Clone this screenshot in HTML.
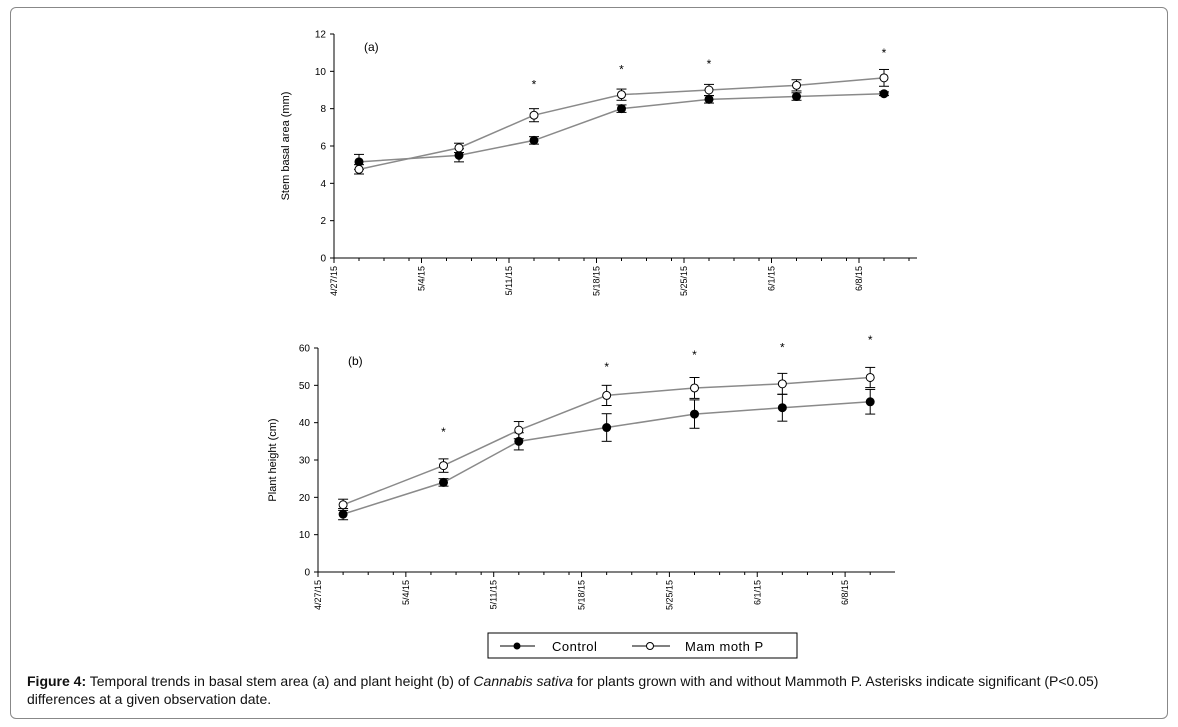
<!DOCTYPE html>
<html><head><meta charset="utf-8">
<style>
body{margin:0;background:#fff;width:1178px;height:727px;overflow:hidden;font-family:"Liberation Sans",Arial,sans-serif}
#frame{position:absolute;left:10px;top:7px;width:1156px;height:710px;border:1px solid #888;border-radius:6px}
#cap{position:absolute;left:27px;top:672px;width:1135px;font-size:14px;line-height:18px;color:#111}
svg{position:absolute;left:0;top:0}
</style></head><body>
<div id="frame"></div>
<svg id="chart" width="1178" height="727"></svg>
<div id="cap"><b>Figure 4:</b> Temporal trends in basal stem area (a) and plant height (b) of <i>Cannabis sativa</i> for plants grown with and without Mammoth P. Asterisks indicate significant (P&lt;0.05) differences at a given observation date.</div>
<script>
const dateLabels=["4/27/15","5/4/15","5/11/15","5/18/15","5/25/15","6/1/15","6/8/15"];
const obsDays=[2,10,16,23,30,37,44];
const aControl=[5.15,5.5,6.3,8.0,8.5,8.65,8.8];
const aControlErr=[0.4,0.35,0.2,0.2,0.2,0.2,0.1];
const aMammoth=[4.75,5.9,7.65,8.75,9.0,9.25,9.65];
const aMammothErr=[0.25,0.25,0.35,0.3,0.3,0.3,0.45];
const aStarDays=[16,23,30,44];
const aStarVals=[9.4,10.2,10.5,11.1];
const aTicks=[0,2,4,6,8,10,12];
const bControl=[15.5,24,35,38.7,42.3,44,45.6];
const bControlErr=[1.5,1,2.3,3.7,3.8,3.6,3.3];
const bMammoth=[18,28.5,38,47.3,49.3,50.4,52.1];
const bMammothErr=[1.5,1.8,2.3,2.7,2.8,2.8,2.7];
const bStarDays=[10,23,30,37,44];
const bStarVals=[38,55.5,58.7,60.7,62.7];
const bTicks=[0,10,20,30,40,50,60];

const svg=document.getElementById('chart');
const NS='http://www.w3.org/2000/svg';
function mk(tag,attrs,parent){const e=document.createElementNS(NS,tag);for(const k in attrs)e.setAttribute(k,attrs[k]);(parent||svg).appendChild(e);return e;}

function panel(cfg){
  const g=mk('g',{});
  
  
  const X=d=>cfg.x0+d*cfg.pxDay;
  const Y=v=>cfg.y0-v*(cfg.y0-cfg.yTop)/cfg.yMax;
  const ya=mk('line',{x1:cfg.x0,y1:cfg.yTop,x2:cfg.x0,y2:cfg.y0,stroke:'#000','stroke-width':1},g);
  
  const xa=mk('line',{x1:cfg.x0,y1:cfg.y0,x2:cfg.xEnd,y2:cfg.y0,stroke:'#000','stroke-width':1},g);
  
  cfg.ticks.forEach(t=>{
    mk('line',{x1:cfg.x0-4,y1:Y(t),x2:cfg.x0,y2:Y(t),stroke:'#000'},g);
    const tx=mk('text',{x:cfg.x0-8,y:Y(t)+3.5,'font-size':10,'text-anchor':'end',fill:'#000'},g);
    tx.textContent=t;
    
  });
  const nDays=Math.floor((cfg.xEnd-cfg.x0)/cfg.pxDay);
  for(let d=0;d<=nDays;d++){
    const r=d%7;
    const major=r===0;
    if(!major && r%2!==0) continue;
    mk('line',{x1:X(d),y1:cfg.y0,x2:X(d),y2:cfg.y0+(major?5:3),stroke:'#000'},g);
  }
  dateLabels.forEach((l,i)=>{
    const x=X(i*7);
    const t=mk('text',{x:0,y:0,'font-size':9,'text-anchor':'end',fill:'#000',transform:`translate(${x+3},${cfg.y0+8}) rotate(-90)`},g);
    t.textContent=l;
    
  });
  const yt=mk('text',{x:0,y:0,'font-size':11,'text-anchor':'middle',fill:'#000',transform:`translate(${cfg.titleX},${(cfg.yTop+cfg.y0)/2}) rotate(-90)`},g);
  yt.textContent=cfg.yTitle;
  
  const pl=mk('text',{x:cfg.x0+30,y:cfg.yTop+17,'font-size':12,fill:'#000'},g);
  pl.textContent=cfg.label;
  
  function series(vals,errs,filled,nm){
    const pts=vals.map((v,i)=>X(obsDays[i])+','+Y(v)).join(' ');
    const ln=mk('polyline',{points:pts,fill:'none',stroke:'#8a8a8a','stroke-width':1.5},g);
    
    vals.forEach((v,i)=>{
      const x=X(obsDays[i]);
      const e1=Y(v+errs[i]),e2=Y(v-errs[i]);
      mk('line',{x1:x,y1:e1,x2:x,y2:e2,stroke:'#000'},g);
      mk('line',{x1:x-5,y1:e1,x2:x+5,y2:e1,stroke:'#000'},g);
      mk('line',{x1:x-5,y1:e2,x2:x+5,y2:e2,stroke:'#000'},g);
      const c=mk('circle',{cx:x,cy:Y(v),r:4,fill:filled?'#000':'#fff',stroke:'#000','stroke-width':1},g);
      
    });
  }
  series(cfg.c,cfg.ce,true,'control');
  series(cfg.m,cfg.me,false,'mammoth-p');
  cfg.sd.forEach((d,i)=>{
    const s=mk('text',{x:X(d),y:Y(cfg.sv[i])+6,'font-size':12,'text-anchor':'middle',fill:'#000'},g);
    s.textContent='*';
    
  });
}
panel({name:'panel-a-stem-area',x0:334,pxDay:12.5,xEnd:917,y0:258,yTop:34,yMax:12,ticks:aTicks,titleX:289,yTitle:'Stem basal area (mm)',label:'(a)',c:aControl,ce:aControlErr,m:aMammoth,me:aMammothErr,sd:aStarDays,sv:aStarVals});
panel({name:'panel-b-plant-height',x0:318,pxDay:12.55,xEnd:895,y0:572,yTop:348,yMax:60,ticks:bTicks,titleX:276,yTitle:'Plant height (cm)',label:'(b)',c:bControl,ce:bControlErr,m:bMammoth,me:bMammothErr,sd:bStarDays,sv:bStarVals});

const lg=mk('g',{});


mk('rect',{x:488,y:633,width:309,height:25,fill:'#fff',stroke:'#000'},lg);
mk('line',{x1:500,y1:646,x2:535,y2:646,stroke:'#000'},lg);
mk('circle',{cx:517,cy:646,r:3.5,fill:'#000'},lg);
const l1=mk('text',{x:552,y:651,'font-size':13,'letter-spacing':'0.5',fill:'#000'},lg);
l1.textContent='Control';

mk('line',{x1:632,y1:646,x2:670,y2:646,stroke:'#000'},lg);
mk('circle',{cx:650,cy:646,r:3.5,fill:'#fff',stroke:'#000'},lg);
const l2=mk('text',{x:685,y:651,'font-size':13,'letter-spacing':'0.5',fill:'#000'},lg);
l2.textContent='Mam moth P';

</script>
</body></html>
